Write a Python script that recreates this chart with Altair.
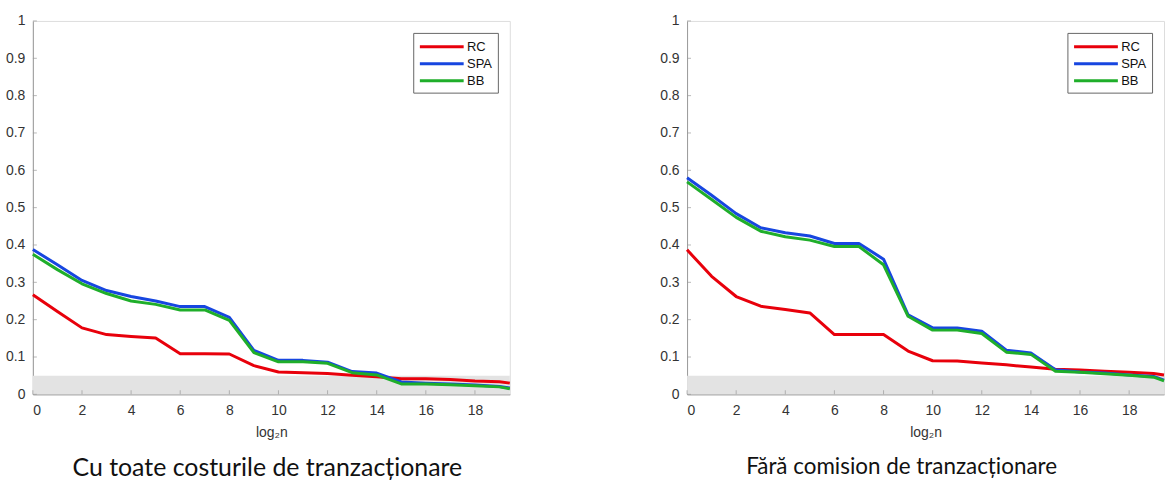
import altair as alt
import pandas as pd

# ---- data ----
x_vals = [0, 1, 2, 3, 4, 5, 6, 7, 8, 9, 10, 11, 12, 13, 14, 15, 16, 17, 18, 19, 19.42]

series_names = ["RC", "SPA", "BB"]
series_colors = ["#e8000b", "#1746e0", "#1fae2a"]

left_rc = [0.267, 0.222, 0.178, 0.160, 0.155, 0.151, 0.109, 0.109, 0.108, 0.077, 0.060,
           0.058, 0.056, 0.051, 0.047, 0.042, 0.042, 0.040, 0.036, 0.034, 0.030]
left_spa = [0.388, 0.347, 0.305, 0.278, 0.262, 0.250, 0.235, 0.235, 0.206, 0.118, 0.091,
            0.091, 0.086, 0.061, 0.057, 0.033, 0.030, 0.028, 0.025, 0.021, 0.017]
left_bb = [0.375, 0.334, 0.296, 0.270, 0.250, 0.241, 0.226, 0.226, 0.198, 0.112, 0.087,
           0.087, 0.083, 0.058, 0.052, 0.028, 0.0275, 0.026, 0.023, 0.020, 0.015]

right_rc = [0.387, 0.316, 0.262, 0.236, 0.227, 0.218, 0.160, 0.160, 0.160, 0.116, 0.090,
            0.089, 0.084, 0.079, 0.073, 0.067, 0.065, 0.062, 0.059, 0.056, 0.052]
right_spa = [0.580, 0.533, 0.484, 0.446, 0.433, 0.424, 0.404, 0.404, 0.362, 0.213, 0.178,
             0.178, 0.169, 0.118, 0.111, 0.066, 0.060, 0.057, 0.052, 0.048, 0.038]
right_bb = [0.569, 0.522, 0.474, 0.437, 0.422, 0.413, 0.396, 0.396, 0.347, 0.209, 0.172,
            0.172, 0.163, 0.113, 0.107, 0.062, 0.059, 0.055, 0.051, 0.046, 0.036]

band_top = 0.05
x_max = 19.42
x_ticks = [0, 2, 4, 6, 8, 10, 12, 14, 16, 18]
y_ticks = [0, 0.1, 0.2, 0.3, 0.4, 0.5, 0.6, 0.7, 0.8, 0.9, 1.0]

titles = ["Cu toate costurile de tranzacționare", "Fără comision de tranzacționare"]
x_title = "log₂n"

AXIS_COLOR = "#9a9a9a"
LABEL_COLOR = "#333333"
W, H = 479, 375

X_AXIS = alt.Axis(values=x_ticks, title=x_title, tickSize=0, labelPadding=9,
                  labelOverlap=False, domainColor=AXIS_COLOR, labelColor=LABEL_COLOR,
                  labelFont="Liberation Sans", labelFontSize=14,
                  titleFont="Liberation Sans", titleFontSize=14,
                  titleFontWeight="normal", titleColor=LABEL_COLOR,
                  titlePadding=8, grid=False)
Y_AXIS = alt.Axis(values=y_ticks, format="~g", title=None, tickSize=0,
                  labelPadding=8, labelOverlap=False, domainColor=AXIS_COLOR,
                  labelColor=LABEL_COLOR, labelFont="Liberation Sans",
                  labelFontSize=14, grid=False)


def make_panel(rc, spa, bb, title, dx, title_size):
    rows = []
    for name, vals in zip(series_names, [rc, spa, bb]):
        for xv, yv in zip(x_vals, vals):
            rows.append({"x": xv, "y": yv, "series": name, "order": series_names.index(name)})
    df = pd.DataFrame(rows)

    xscale = alt.Scale(domain=[0, x_max], nice=False, zero=False)
    yscale = alt.Scale(domain=[0, 1], nice=False)

    band_df = pd.DataFrame({"x0": [0], "x1": [x_max], "y0": [0], "y1": [band_top]})
    band = alt.Chart(band_df).mark_rect(color="#e3e3e3").encode(
        x=alt.X("x0:Q", scale=xscale, axis=X_AXIS),
        x2="x1:Q",
        y=alt.Y("y0:Q", scale=yscale, axis=Y_AXIS),
        y2="y1:Q",
    )

    xt = alt.Chart(pd.DataFrame({"t": x_ticks})).mark_tick(
        orient="vertical", color=AXIS_COLOR, size=4, thickness=1
    ).encode(x=alt.X("t:Q", scale=xscale, axis=X_AXIS), y=alt.value(H - 2))

    yt = alt.Chart(pd.DataFrame({"t": y_ticks})).mark_tick(
        orient="horizontal", color=AXIS_COLOR, size=4, thickness=1
    ).encode(y=alt.Y("t:Q", scale=yscale, axis=Y_AXIS), x=alt.value(2))

    lines = alt.Chart(df).mark_line(strokeWidth=3, strokeJoin="round").encode(
        x=alt.X("x:Q", scale=xscale, axis=X_AXIS),
        y=alt.Y("y:Q", scale=yscale, axis=Y_AXIS),
        color=alt.Color("series:N",
                        scale=alt.Scale(domain=series_names, range=series_colors),
                        sort=series_names,
                        legend=alt.Legend(title=None, orient="top-right", offset=12,
                                          symbolType="M-1,0H5", symbolSize=215,
                                          symbolStrokeWidth=3, labelFont="Liberation Sans",
                                          labelFontSize=13, labelColor="#111",
                                          strokeColor="#666", fillColor="white",
                                          padding=5, rowPadding=1, labelOffset=31)),
        order=alt.Order("order:Q"),
        detail="series:N",
    )

    return alt.layer(band, xt, yt, lines).properties(
        width=W, height=H,
        title=alt.TitleParams(title, orient="bottom", anchor="middle", font="Lato",
                              fontSize=title_size, fontWeight="normal", color="#111",
                              offset=17, dx=dx),
    )


left = make_panel(left_rc, left_spa, left_bb, titles[0], -4, 25)
right = make_panel(right_rc, right_spa, right_bb, titles[1], -24, 22.5)

chart = alt.hconcat(left, right, spacing=148).resolve_scale(
    color="independent").resolve_legend(color="independent").properties(
    padding={"left": 5, "top": 12, "right": 0, "bottom": 0}
).configure_view(stroke=None).configure(background="white")

chart.save("out.html", embed_options={"renderer": "svg", "actions": False})
